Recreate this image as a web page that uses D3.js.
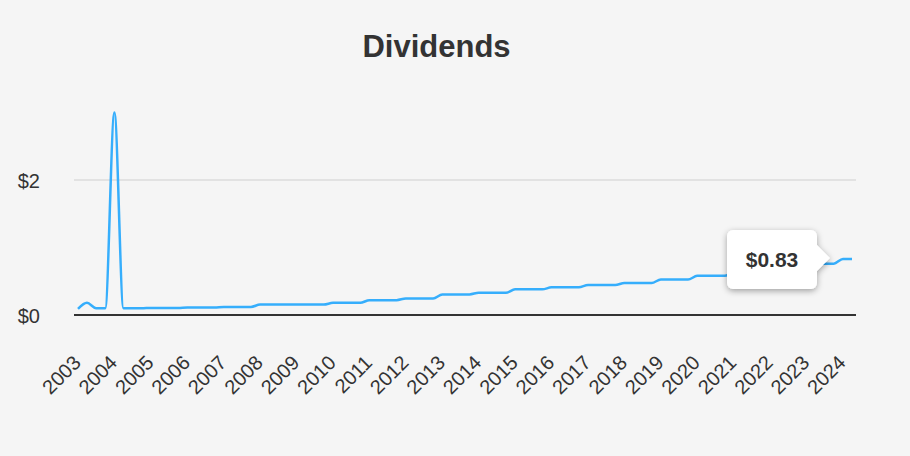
<!DOCTYPE html>
<html>
<head>
<meta charset="utf-8">
<script src="https://cdn.jsdelivr.net/npm/d3@7"></script>
<style>
  html, body { margin: 0; padding: 0; background: #f5f5f5; }
  svg { display: block; font-family: "Liberation Sans", Arial, Helvetica, sans-serif; }
</style>
</head>
<body>
<svg id="chart" width="910" height="456"></svg>
<script>
// ---- data ----
const title = "Dividends";
const quarters = [
  "2003-01","2003-04","2003-07","2003-10",
  "2004-01","2004-04","2004-07","2004-10",
  "2005-01","2005-04","2005-07","2005-10",
  "2006-01","2006-04","2006-07","2006-10",
  "2007-01","2007-04","2007-07","2007-10",
  "2008-01","2008-04","2008-07","2008-10",
  "2009-01","2009-04","2009-07","2009-10",
  "2010-01","2010-04","2010-07","2010-10",
  "2011-01","2011-04","2011-07","2011-10",
  "2012-01","2012-04","2012-07","2012-10",
  "2013-01","2013-04","2013-07","2013-10",
  "2014-01","2014-04","2014-07","2014-10",
  "2015-01","2015-04","2015-07","2015-10",
  "2016-01","2016-04","2016-07","2016-10",
  "2017-01","2017-04","2017-07","2017-10",
  "2018-01","2018-04","2018-07","2018-10",
  "2019-01","2019-04","2019-07","2019-10",
  "2020-01","2020-04","2020-07","2020-10",
  "2021-01","2021-04","2021-07","2021-10",
  "2022-01","2022-04","2022-07","2022-10",
  "2023-01","2023-04","2023-07","2023-10",
  "2024-01","2024-04"
];
const dividends = [
  0.09, 0.18, 0.10, 0.10,
  3.00, 0.10, 0.10, 0.10,
  0.105, 0.105, 0.105, 0.105,
  0.11, 0.11, 0.11, 0.11,
  0.12, 0.12, 0.12, 0.12,
  0.155, 0.155, 0.155, 0.155,
  0.155, 0.155, 0.155, 0.155,
  0.18, 0.18, 0.18, 0.18,
  0.22, 0.22, 0.22, 0.22,
  0.245, 0.245, 0.245, 0.245,
  0.305, 0.305, 0.305, 0.305,
  0.33, 0.33, 0.33, 0.33,
  0.38, 0.38, 0.38, 0.38,
  0.41, 0.41, 0.41, 0.41,
  0.445, 0.445, 0.445, 0.445,
  0.475, 0.475, 0.475, 0.475,
  0.525, 0.525, 0.525, 0.525,
  0.58, 0.58, 0.58, 0.58,
  0.63, 0.63, 0.63, 0.63,
  0.69, 0.69, 0.69, 0.69,
  0.76, 0.76, 0.76, 0.76,
  0.83, 0.83
];
const yearTicks = ["2003","2004","2005","2006","2007","2008","2009","2010","2011","2012","2013",
  "2014","2015","2016","2017","2018","2019","2020","2021","2022","2023","2024"];
const yTicks = [0, 2];
const tooltipLabel = "$0.83";

// ---- chart ----
const svg = d3.select("#chart");
const W = 910, H = 456;
svg.append("rect").attr("width", W).attr("height", H).attr("fill", "#f5f5f5");

const parse = d3.timeParse("%Y-%m");
const data = quarters.map((q, i) => ({ date: parse(q), value: dividends[i] }));

const x = d3.scaleTime()
  .domain(d3.extent(data, d => d.date))
  .range([78, 852]);
const y = d3.scaleLinear().domain([0, 2]).range([315, 180]);

const plotLeft = 74, plotRight = 856;

// title
svg.append("text")
  .attr("x", 436.5).attr("y", 57)
  .attr("text-anchor", "middle")
  .attr("font-size", 31).attr("font-weight", "bold")
  .attr("fill", "#333")
  .text(title);

// gridlines
svg.append("g").selectAll("line")
  .data(yTicks.filter(t => t !== 0))
  .join("line")
  .attr("x1", plotLeft).attr("x2", plotRight)
  .attr("y1", d => y(d)).attr("y2", d => y(d))
  .attr("stroke", "#e2e2e2").attr("stroke-width", 2);

// y labels
svg.append("g").selectAll("text")
  .data(yTicks)
  .join("text")
  .attr("x", 40).attr("y", d => y(d))
  .attr("dy", "0.4em")
  .attr("text-anchor", "end")
  .attr("font-size", 20)
  .attr("fill", "#333")
  .text(d => "$" + d);

// line
const line = d3.line()
  .x(d => x(d.date)).y(d => y(d.value))
  .curve(d3.curveMonotoneX);
svg.append("path")
  .datum(data)
  .attr("d", line)
  .attr("fill", "none")
  .attr("stroke", "#36aefc")
  .attr("stroke-width", 2.5)
  .attr("stroke-linejoin", "round");

// baseline axis
svg.append("line")
  .attr("x1", plotLeft).attr("x2", plotRight)
  .attr("y1", y(0)).attr("y2", y(0))
  .attr("stroke", "#333").attr("stroke-width", 2);

// x labels
svg.append("g").selectAll("text")
  .data(yearTicks)
  .join("text")
  .attr("transform", d => `translate(${x(parse(d + "-01")) + 4},364) rotate(-45)`)
  .attr("text-anchor", "end")
  .attr("font-size", 20)
  .attr("fill", "#333")
  .text(d => d);

// tooltip
const defs = svg.append("defs");
const f = defs.append("filter").attr("id", "shadow")
  .attr("x", "-30%").attr("y", "-30%").attr("width", "160%").attr("height", "160%");
f.append("feDropShadow").attr("dx", 0).attr("dy", 2).attr("stdDeviation", 3)
  .attr("flood-color", "#000").attr("flood-opacity", 0.35);

const last = data[data.length - 1];
const tipX = x(last.date) - 22, tipY = y(last.value) - 1;
const bw = 90, bh = 59, r = 6, aw = 13, ah = 13;
const bx = tipX - aw - bw, by = tipY - 28;
const p = d3.path();
p.moveTo(bx + r, by);
p.lineTo(bx + bw - r, by);
p.arcTo(bx + bw, by, bx + bw, by + r, r);
p.lineTo(bx + bw, tipY - ah);
p.lineTo(tipX, tipY);
p.lineTo(bx + bw, tipY + ah);
p.lineTo(bx + bw, by + bh - r);
p.arcTo(bx + bw, by + bh, bx + bw - r, by + bh, r);
p.lineTo(bx + r, by + bh);
p.arcTo(bx, by + bh, bx, by + bh - r, r);
p.lineTo(bx, by + r);
p.arcTo(bx, by, bx + r, by, r);
p.closePath();
svg.append("path").attr("d", p.toString())
  .attr("fill", "#fff").attr("filter", "url(#shadow)");
svg.append("text")
  .attr("x", bx + bw / 2).attr("y", by + bh / 2)
  .attr("dy", "0.36em")
  .attr("text-anchor", "middle")
  .attr("font-size", 21).attr("font-weight", "bold")
  .attr("fill", "#333")
  .text(tooltipLabel);
</script>
</body>
</html>
